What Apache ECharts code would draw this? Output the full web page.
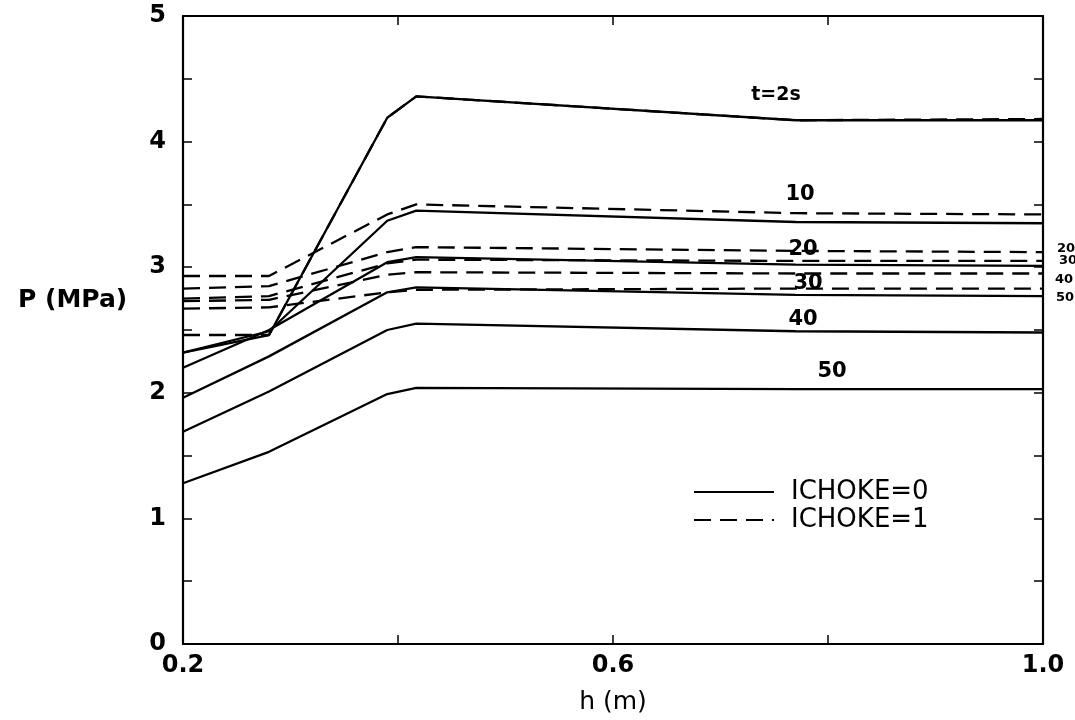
<!DOCTYPE html>
<html>
<head>
<meta charset="utf-8">
<script src="https://cdn.jsdelivr.net/npm/echarts@6/dist/echarts.min.js"></script>
<style>html,body{margin:0;padding:0;background:#fff}#c{width:1075px;height:720px}</style>
</head>
<body>
<div id="c"></div>
<script>
// h (m) sample positions
const hValues = [0.2, 0.28, 0.39, 0.417, 0.77, 1.0];
// ICHOKE=0 (solid) P (MPa)
const solid_t2  = [2.32, 2.46, 4.19, 4.36, 4.17, 4.17];
const solid_t10 = [2.32, 2.49, 3.37, 3.45, 3.36, 3.35];
const solid_t20 = [2.20, 2.50, 3.04, 3.08, 3.02, 3.01];
const solid_t30 = [1.96, 2.29, 2.80, 2.84, 2.78, 2.77];
const solid_t40 = [1.69, 2.01, 2.50, 2.55, 2.49, 2.48];
const solid_t50 = [1.28, 1.53, 1.99, 2.04, 2.03, 2.03];
// ICHOKE=1 (dashed) P (MPa)
const dash_t2  = [2.46, 2.46, 4.19, 4.36, 4.17, 4.18];
const dash_t10 = [2.93, 2.93, 3.42, 3.50, 3.43, 3.42];
const dash_t20 = [2.83, 2.85, 3.12, 3.16, 3.13, 3.12];
const dash_t30 = [2.75, 2.77, 3.03, 3.06, 3.05, 3.05];
const dash_t40 = [2.73, 2.74, 2.94, 2.96, 2.95, 2.95];
const dash_t50 = [2.67, 2.68, 2.80, 2.82, 2.83, 2.83];
// tick labels
const xTickLabels = ['0.2', '0.6', '1.0'];
const yTickLabels = ['0', '1', '2', '3', '4', '5'];

const FONT = 'DejaVu Sans';
const pair = arr => hValues.map((h, i) => [h, arr[i]]);
const solidSets = [solid_t2, solid_t10, solid_t20, solid_t30, solid_t40, solid_t50];
const dashSets = [dash_t2, dash_t10, dash_t20, dash_t30, dash_t40, dash_t50];

const series = [];
solidSets.forEach(s => series.push({
  name: 'ICHOKE=0', type: 'line', data: pair(s), symbol: 'none', silent: true,
  lineStyle: {color: '#000', width: 2.3, type: 'solid'}, itemStyle: {color: '#000'}
}));
dashSets.forEach(s => series.push({
  name: 'ICHOKE=1', type: 'line', data: pair(s), symbol: 'none', silent: true,
  lineStyle: {color: '#000', width: 2.3, type: [17, 9]}, itemStyle: {color: '#000'}
}));

const axisLine = {show: true, onZero: false, lineStyle: {color: '#000', width: 2.2}};
const tick = {show: true, inside: true, length: 9, lineStyle: {color: '#000', width: 1.5}};
const txt = (text, x, y, size, align) => ({type: 'text', x: x, y: y, silent: true,
  style: {text, fill: '#000', font: 'bold ' + size + 'px ' + FONT,
    textAlign: align || 'center', align: align || 'center',
    textVerticalAlign: 'middle', verticalAlign: 'middle'}});

const chart = echarts.init(document.getElementById('c'));
chart.setOption({
  animation: false,
  backgroundColor: '#fff',
  grid: {left: 183, top: 16, width: 860, height: 629, containLabel: false},
  xAxis: [{
    type: 'value', min: 0.2, max: 1.0, interval: 0.2, position: 'bottom',
    axisLine, axisTick: tick, splitLine: {show: false},
    axisLabel: {color: '#000', fontFamily: FONT, fontWeight: 'bold', fontSize: 24, margin: 10,
      formatter: v => { const s = v.toFixed(1); return xTickLabels.includes(s) ? s : ''; }},
    name: 'h (m)', nameLocation: 'middle', nameGap: 46,
    nameTextStyle: {color: '#000', fontFamily: FONT, fontSize: 25}
  }, {
    type: 'value', min: 0.2, max: 1.0, interval: 0.2, position: 'top',
    axisLine, axisTick: tick, splitLine: {show: false}, axisLabel: {show: false}
  }],
  yAxis: [{
    type: 'value', min: 0, max: 5, interval: 0.5, position: 'left',
    axisLine, axisTick: tick, splitLine: {show: false},
    axisLabel: {color: '#000', fontFamily: FONT, fontWeight: 'bold', fontSize: 24, margin: 17,
      formatter: v => { const s = String(v); return yTickLabels.includes(s) ? s : ''; }}
  }, {
    type: 'value', min: 0, max: 5, interval: 0.5, position: 'right',
    axisLine, axisTick: tick, splitLine: {show: false}, axisLabel: {show: false}
  }],
  legend: {
    data: ['ICHOKE=0', 'ICHOKE=1'], orient: 'vertical', left: 688, top: 474,
    itemWidth: 80, itemHeight: 14, itemGap: 2,
    itemStyle: {opacity: 0},
    textStyle: {color: '#000', fontFamily: FONT, fontSize: 26, padding: [0, 0, 0, 12]},
    selectedMode: false
  },
  series,
  graphic: [
    txt('P (MPa)', 18, 300, 25, 'left'),
    txt('t=2s', 776, 95, 19),
    txt('10', 800, 195, 21),
    txt('20', 803, 250, 21),
    txt('30', 808, 284, 21),
    txt('40', 803, 320, 21),
    txt('50', 832, 372, 21),
    txt('20', 1057, 249, 13, 'left'),
    txt('30', 1059, 261, 13, 'left'),
    txt('40', 1055, 280, 13, 'left'),
    txt('50', 1056, 298, 13, 'left')
  ]
});
</script>
</body>
</html>
